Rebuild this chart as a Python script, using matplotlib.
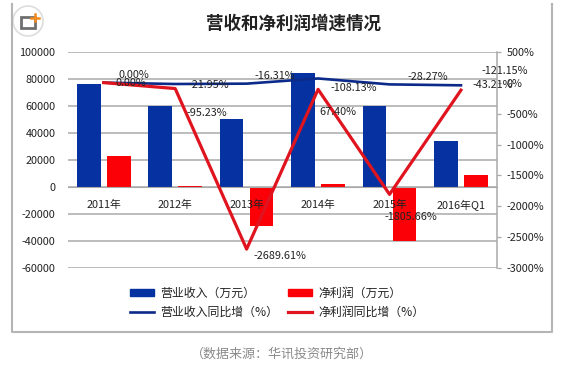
import matplotlib
matplotlib.use("Agg")
import matplotlib.pyplot as plt
from matplotlib.patches import Rectangle, Circle
from matplotlib.lines import Line2D
from matplotlib.patches import Patch
import numpy as np

plt.rcParams['font.family'] = ['Noto Sans CJK SC', 'DejaVu Sans']

categories = ['2011年', '2012年', '2013年', '2014年', '2015年', '2016年Q1']
revenue = [76400, 59600, 50200, 84200, 59700, 34300]
profit = [23200, 1000, -28500, 2500, -39900, 8600]
revenue_yoy = [0.00, -21.95, -16.31, 67.40, -28.27, -43.21]
profit_yoy = [0.00, -95.23, -2689.61, -108.13, -1805.66, -121.15]
left_ticks = [100000, 80000, 60000, 40000, 20000, 0, -20000, -40000, -60000]
right_ticks = [500, 0, -500, -1000, -1500, -2000, -2500, -3000]

W, H = 563, 369
fig = plt.figure(figsize=(W / 100, H / 100), dpi=100, facecolor='white')

def fx(px): return px / W
def fy(py): return 1 - py / H

# outer frame
fig.add_artist(Line2D([fx(12), fx(12), fx(552), fx(552)], [fy(4), fy(332), fy(332), fy(4)],
                      color='#b5b5b5', lw=1.5, transform=fig.transFigure))

L, R, T, B = 68, 496.7, 51.7, 268.3
ax = fig.add_axes([fx(L), fy(B), (R - L) / W, (B - T) / H])
ax2 = ax.twinx()
ax.set_zorder(1); ax2.set_zorder(2)
ax.patch.set_visible(True); ax2.patch.set_visible(False)

x = np.arange(len(categories))
blue_bar, red_bar = '#0532a0', '#fb0007'
blue_line, red_line = '#0b2a8a', '#e0141e'
grid = '#a9a9a9'
ax.bar(x - 0.21, revenue, 0.33, color=blue_bar, zorder=2)
ax.bar(x + 0.21, profit, 0.33, color=red_bar, zorder=2)
ax.set_xlim(-0.5, 5.5)
ax.set_ylim(-60000, 100000)
ax.set_yticks(left_ticks)
ax.set_yticklabels([str(v) for v in left_ticks])
ax.yaxis.grid(True, color=grid, lw=1.1)
ax.set_axisbelow(True)
ax.tick_params(axis='y', length=0, pad=9, labelsize=7.8, labelcolor='#222222')
ax.set_xticks(x)
ax.set_xticklabels(categories)
ax.spines['bottom'].set_position(('data', 0))
ax.spines['bottom'].set_color(grid)
ax.tick_params(axis='x', length=0, pad=9, labelsize=7.8, labelcolor='#222222')
for s in ('left', 'top', 'right'):
    ax.spines[s].set_visible(False)
# category labels sit on top of the bars, as in the reference
ax.xaxis.set_zorder(3)
ax.set_axisbelow(False)
ax.yaxis.set_zorder(0.5)

ax2.plot(x, revenue_yoy, color=blue_line, lw=1.9, zorder=4)
ax2.plot(x, profit_yoy, color=red_line, lw=2.3, zorder=5)
ax2.set_ylim(-3000, 500)
ax2.set_yticks(right_ticks)
ax2.set_yticklabels([f'{v}%' for v in right_ticks])
ax2.tick_params(axis='y', length=3, width=0.9, color=grid, pad=4, labelsize=7.8, labelcolor='#222222')
for s in ('left', 'top', 'bottom'):
    ax2.spines[s].set_visible(False)
ax2.spines['right'].set_color(grid)
ax2.spines['right'].set_linewidth(1.1)

# data labels, offset in pixels from their points
rev_off = [(30, 8), (34, -1), (28, 8), (20, -34), (38, 7), (32, 0)]
pro_off = [(27, 0), (32, -24), (33, -7), (36, 1), (21, -23), (44, 19)]
for vals, offs in ((revenue_yoy, rev_off), (profit_yoy, pro_off)):
    for i, (v, (dx, dy)) in enumerate(zip(vals, offs)):
        ax2.annotate(f'{v:.2f}%', (i, v), xytext=(dx * 0.72, dy * 0.72), textcoords='offset points',
                     ha='center', va='center', fontsize=7.8, color='#222222', zorder=7)

# legend
handles = [Patch(color=blue_bar), Line2D([], [], color=blue_line, lw=1.9),
           Patch(color=red_bar), Line2D([], [], color=red_line, lw=2.3)]
labels = ['营业收入（万元）', '营业收入同比增（%）', '净利润（万元）', '净利润同比增（%）']
fig.legend(handles, labels, ncol=2, frameon=False, fontsize=8.6,
           loc='center left', bbox_to_anchor=(fx(119.5), fy(302.5)),
           handlelength=2.0, handleheight=0.55, handletextpad=0.55,
           columnspacing=0.77, labelspacing=0.5, labelcolor='#222222')

fig.text(fx(293.5), fy(24), '营收和净利润增速情况', ha='center', va='center',
         fontsize=12.6, fontweight='bold', color='#222222')
fig.text(fx(281.5), fy(354.5), '（数据来源：华讯投资研究部）', ha='center', va='center',
         fontsize=9.4, color='#8a8a8a')

# logo
fig.add_artist(Circle((28, H - 21), 15, transform=None, facecolor='white', edgecolor='#dddddd', lw=1.2))
fig.add_artist(Rectangle((20.5, H - 27.5), 14, 11, transform=None, facecolor='none', edgecolor='#6f6f6f', lw=2))
fig.add_artist(Line2D([34.5, 34.5], [H - 21, H - 13.5], transform=None, color='#f28a1e', lw=1.8))
fig.add_artist(Line2D([30.5, 38.5], [H - 17.5, H - 17.5], transform=None, color='#f28a1e', lw=1.8))

fig.savefig('out.png', dpi=100)
